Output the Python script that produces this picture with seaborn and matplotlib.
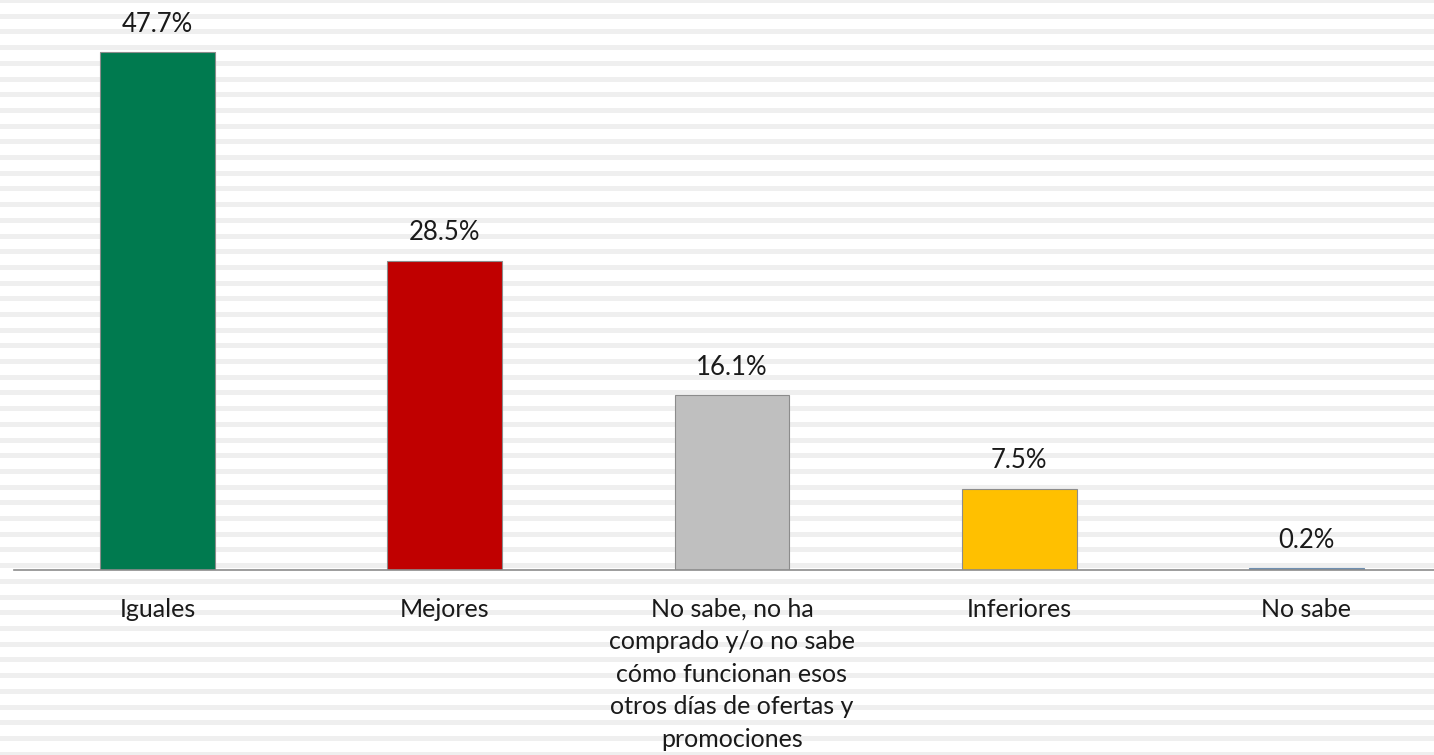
import matplotlib
matplotlib.use("Agg")
import matplotlib.pyplot as plt
import seaborn as sns
import pandas as pd

categories = ["Iguales", "Mejores",
              "No sabe, no ha\ncomprado y/o no sabe\ncómo funcionan esos\notros días de ofertas y\npromociones",
              "Inferiores", "No sabe"]
values = [47.7, 28.5, 16.1, 7.5, 0.2]
colors = ["#007A4F", "#C00000", "#BFBFBF", "#FFC000", "#6F8FB0"]

df = pd.DataFrame({"cat": categories, "val": values})

sns.set_theme(style="white")
plt.rcParams["font.family"] = ["Lato", "DejaVu Sans"]

fig = plt.figure(figsize=(14.34, 7.55), dpi=100)
fig.patch.set_facecolor("white")

# striped background (pixel units, top down)
bg = fig.add_axes([0, 0, 1, 1], zorder=-1)
bg.set_xlim(0, 1)
bg.set_ylim(755, 0)
bg.axis("off")
y = -2.0
while y < 760:
    bg.axhspan(y, y + 5, color="#EFEFEF", lw=0)
    y += 15.7

ax = fig.add_axes([14 / 1434, 185 / 755, 1436 / 1434, 570 / 755], zorder=1)
ax.set_facecolor("none")

sns.barplot(data=df, x="cat", y="val", hue="cat", palette=colors, legend=False,
            saturation=1, width=0.4, edgecolor="#8C8C8C", linewidth=0.8, ax=ax)
ax.patches[-1].set_edgecolor(colors[-1])

for c in ax.containers:
    ax.bar_label(c, fmt="%.1f%%", padding=11, fontsize=18.5, color="#1A1A1A")

ax.set_xlim(-0.5, 4.5)
ax.set_ylim(0, 52.5)
ax.set_xlabel("")
ax.set_ylabel("")
ax.set_yticks([])
ax.tick_params(axis="x", length=0, pad=20, labelsize=18, labelcolor="#1A1A1A")
for lbl in ax.get_xticklabels():
    lbl.set_horizontalalignment("center")
    lbl.set_linespacing(1.5)

for s in ["top", "right", "left"]:
    ax.spines[s].set_visible(False)
ax.spines["bottom"].set_color("#8C8C8C")
ax.spines["bottom"].set_linewidth(1.2)

fig.savefig("out.png", dpi=100)
